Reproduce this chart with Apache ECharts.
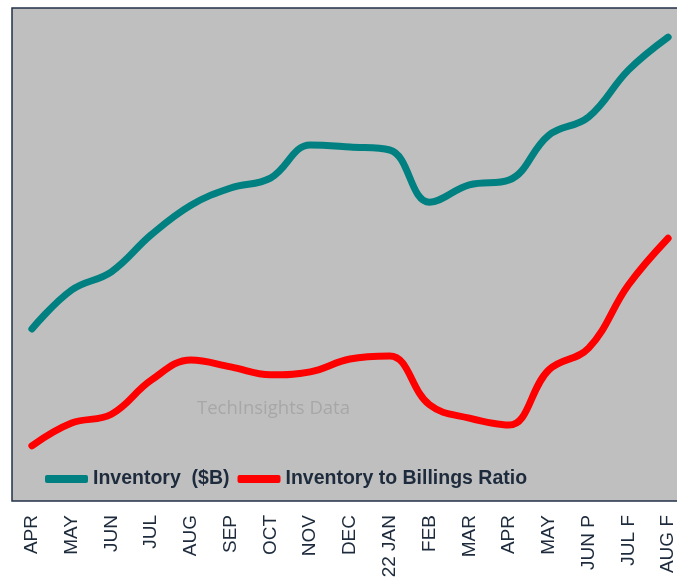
<!DOCTYPE html>
<html>
<head>
<meta charset="utf-8">
<script src="https://cdn.jsdelivr.net/npm/echarts@6/dist/echarts.min.js"></script>
<style>
  html, body { margin: 0; padding: 0; background: #fff; }
  #main { width: 677px; height: 588px; }
</style>
</head>
<body>
<div id="main"></div>
<script>
// month labels along the x axis
var months = ['APR', 'MAY', 'JUN', 'JUL', 'AUG', 'SEP', 'OCT', 'NOV', 'DEC', '22 JAN',
              'FEB', 'MAR', 'APR', 'MAY', 'JUN P', 'JUL F', 'AUG F'];
// index values (no y scale shown)
var inventory = [34.9, 42.8, 46.5, 54.0, 60.0, 63.5, 65.5, 72.2, 71.8, 71.2,
                 60.6, 64.1, 65.1, 74.2, 77.9, 87.4, 94.1];
var invToBillings = [11.2, 15.8, 17.6, 24.5, 28.6, 27.2, 25.6, 26.2, 28.8, 29.4,
                     19.5, 16.8, 15.4, 26.6, 31.0, 43.8, 53.3];

var chartDom = document.getElementById('main');
var myChart = echarts.init(chartDom);
var option = {
  backgroundColor: '#fff',
  animation: false,
  grid: {
    left: 12, top: 8, width: 676, height: 493,
    outerBoundsMode: 'none',
    show: true,
    backgroundColor: '#bfbfbf',
    borderColor: '#22324a',
    borderWidth: 1.5
  },
  legend: {
    left: 45, top: 469,
    padding: 0,
    itemWidth: 43, itemHeight: 8,
    itemGap: 8,
    icon: 'roundRect',
    textStyle: {
      fontFamily: 'Liberation Sans, Arial',
      fontWeight: 'bold',
      fontSize: 19.5,
      color: '#1d2b3c'
    },
    data: ['Inventory  ($B)', 'Inventory to Billings Ratio']
  },
  graphic: [{
    type: 'text',
    left: 197, top: 399,
    silent: true,
    style: {
      text: 'TechInsights Data',
      fill: '#a7a7a7',
      font: '18.5px "Open Sans", sans-serif'
    }
  }],
  xAxis: {
    type: 'category',
    data: months,
    boundaryGap: true,
    axisLine: { show: false },
    axisTick: { show: false },
    axisLabel: {
      rotate: 90,
      margin: 14,
      interval: 0,
      fontFamily: 'Liberation Sans, Arial',
      fontSize: 19,
      color: '#1d2b3c'
    }
  },
  yAxis: {
    type: 'value',
    min: 0, max: 100,
    show: false,
    splitLine: { show: false }
  },
  series: [
    {
      name: 'Inventory  ($B)',
      type: 'line',
      data: inventory,
      smooth: 0.4,
      symbol: 'none',
      color: '#008080',
      lineStyle: { width: 7, cap: 'round', join: 'round' }
    },
    {
      name: 'Inventory to Billings Ratio',
      type: 'line',
      data: invToBillings,
      smooth: 0.4,
      symbol: 'none',
      color: '#ff0000',
      lineStyle: { width: 7, cap: 'round', join: 'round' }
    }
  ]
};
myChart.setOption(option);
</script>
</body>
</html>
